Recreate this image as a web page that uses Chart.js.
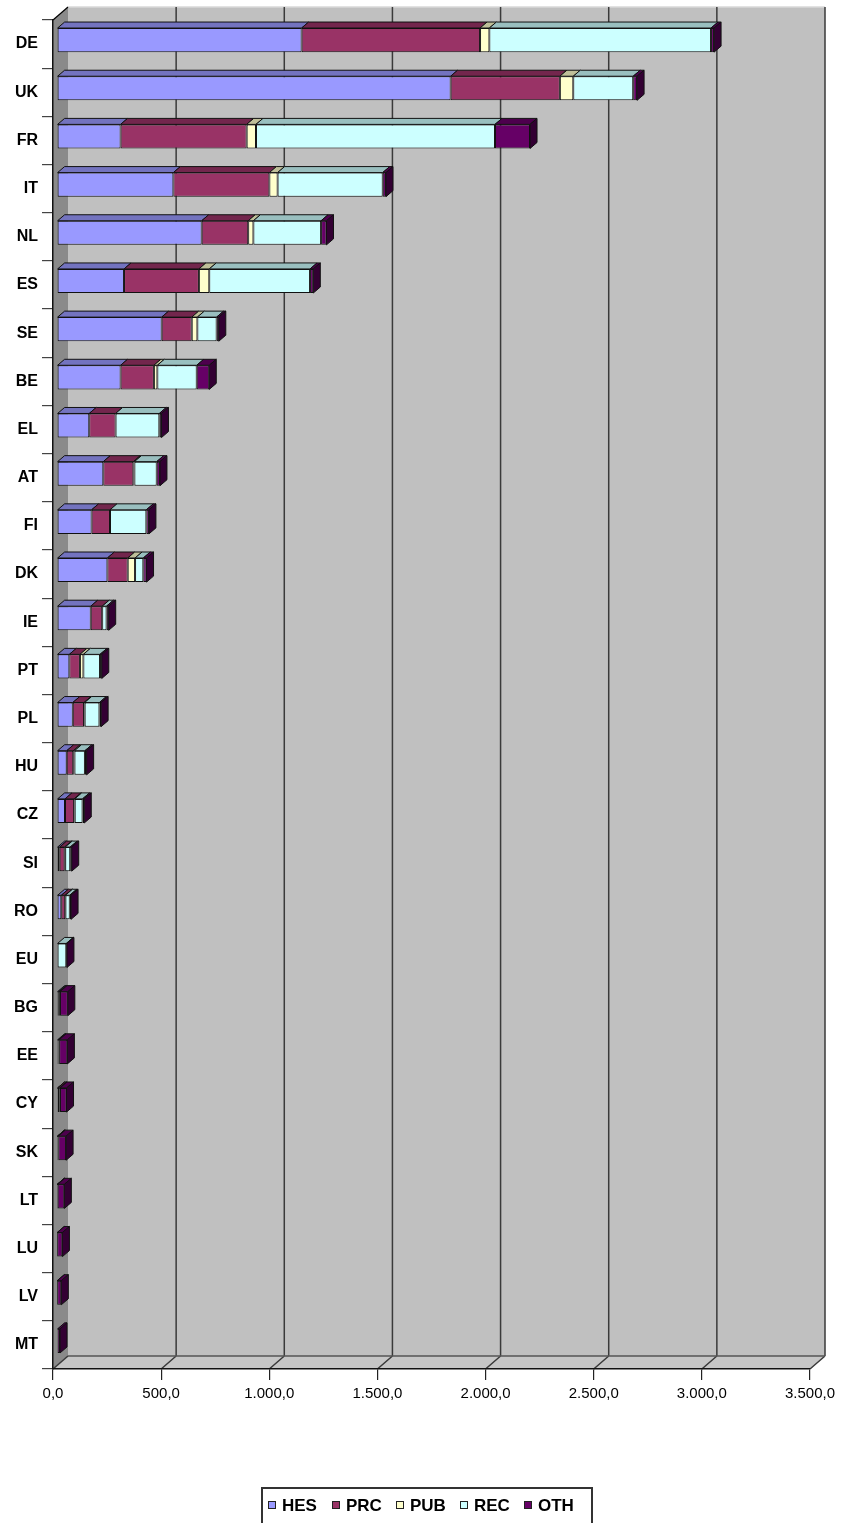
<!DOCTYPE html>
<html>
<head>
<meta charset="utf-8">
<script src="https://cdn.jsdelivr.net/npm/chart.js@4.4.1/dist/chart.umd.min.js"></script>
<style>
    html, body { margin: 0; padding: 0; background: #fff; }
</style>
</head>
<body>
<canvas id="barChart" width="842" height="1523"></canvas>
<script>
// Categories and stacked series (top to bottom)
const countries = ['DE', 'UK', 'FR', 'IT', 'NL', 'ES', 'SE', 'BE', 'EL', 'AT', 'FI', 'DK', 'IE', 'PT',
    'PL', 'HU', 'CZ', 'SI', 'RO', 'EU', 'BG', 'EE', 'CY', 'SK', 'LT', 'LU', 'LV', 'MT'];
const hes = [1131, 1820, 294, 538, 669, 310, 484, 294, 149, 214, 160, 233, 156, 57, 73, 45, 37, 12, 20, 0, 8, 6, 3, 2, 1, 0, 0, 0];
const prc = [825, 505, 583, 444, 215, 346, 139, 154, 122, 139, 85, 94, 53, 49, 52, 30, 42, 23, 18, 0, 2, 2, 8, 2, 1, 0, 0, 0];
const pub = [43, 62, 43, 38, 24, 48, 26, 16, 0, 5, 0, 34, 0, 16, 3, 6, 3, 3, 1, 0, 0, 0, 0, 0, 0, 0, 0, 0];
const rec = [1025, 277, 1105, 486, 313, 466, 89, 182, 202, 103, 168, 38, 20, 77, 68, 48, 36, 23, 20, 43, 4, 2, 3, 2, 1, 1, 1, 0];
const oth = [14, 18, 162, 15, 25, 15, 10, 58, 10, 15, 12, 15, 10, 8, 8, 8, 8, 7, 6, 3, 36, 38, 30, 36, 31, 24, 19, 14];
const seriesNames = ['HES', 'PRC', 'PUB', 'REC', 'OTH'];
const xTicks = [0, 500, 1000, 1500, 2000, 2500, 3000, 3500];

const colors = ['#9999ff', '#993366', '#ffffcc', '#ccffff', '#660066'];
const FONT = "'Liberation Sans', Arial, sans-serif";

// depth of the walls and of the bars (oblique projection)
const WX = 15, WY = 13;
const DX = 7, DY = 6;
const SHIFT = 4;

function shade(hex, f) {
    const n = parseInt(hex.slice(1), 16);
    const r = Math.round(((n >> 16) & 255) * f);
    const g = Math.round(((n >> 8) & 255) * f);
    const b = Math.round((n & 255) * f);
    return `rgb(${r}, ${g}, ${b})`;
}

// 1500 -> "1.500,0"
function fmt(v) {
    return String(Math.round(v)).replace(/\B(?=(\d{3})+(?!\d))/g, '.') + ',0';
}

function poly(ctx, pts, fill, stroke, lw) {
    ctx.beginPath();
    ctx.moveTo(pts[0][0], pts[0][1]);
    for (let i = 1; i < pts.length; i++) ctx.lineTo(pts[i][0], pts[i][1]);
    ctx.closePath();
    if (fill) { ctx.fillStyle = fill; ctx.fill(); }
    if (stroke) { ctx.strokeStyle = stroke; ctx.lineWidth = lw || 1; ctx.stroke(); }
}

// Back wall, left wall, floor and gridlines
const wallsPlugin = {
    id: 'walls',
    beforeDraw(chart) {
        const ctx = chart.ctx;
        const { left, right, top, bottom } = chart.chartArea;
        const xs = chart.scales.x;
        ctx.save();
        poly(ctx, [[left + WX, top - WY], [right + WX, top - WY], [right + WX, bottom - WY], [left + WX, bottom - WY]], '#c0c0c0');
        poly(ctx, [[left, top], [left + WX, top - WY], [left + WX, bottom - WY], [left, bottom]], '#8a8a8a');
        poly(ctx, [[left, bottom], [left + WX, bottom - WY], [right + WX, bottom - WY], [right, bottom]], '#c6c6c6');

        // top edge of the back wall
        ctx.strokeStyle = '#d8d8d8';
        ctx.lineWidth = 1.5;
        ctx.beginPath();
        ctx.moveTo(left + WX, top - WY);
        ctx.lineTo(right + WX, top - WY);
        ctx.stroke();

        ctx.strokeStyle = '#3a3a3a';
        ctx.lineWidth = 1.5;
        xTicks.forEach(v => {
            const x = xs.getPixelForValue(v);
            ctx.beginPath();
            if (v > 0) {
                ctx.moveTo(x + WX, top - WY);
                ctx.lineTo(x + WX, bottom - WY);
            }
            ctx.moveTo(x + WX, bottom - WY);
            ctx.lineTo(x, bottom);
            ctx.stroke();
        });

        // floor back edge and top-left slant
        ctx.strokeStyle = '#555';
        ctx.beginPath();
        ctx.moveTo(left + WX, bottom - WY);
        ctx.lineTo(right + WX, bottom - WY);
        ctx.stroke();
        ctx.strokeStyle = '#000';
        ctx.lineWidth = 1.2;
        ctx.beginPath();
        ctx.moveTo(left, top);
        ctx.lineTo(left + WX, top - WY);
        ctx.stroke();
        ctx.restore();
    }
};

// Shift the bars into the box and add their top and end faces
const bars3dPlugin = {
    id: 'bars3d',
    beforeDatasetsDraw(chart) {
        chart.ctx.save();
        chart.ctx.translate(SHIFT, -SHIFT);
    },
    afterDatasetsDraw(chart) {
        const ctx = chart.ctx;
        const sets = chart.data.datasets;
        countries.forEach((c, i) => {
            let last = -1;
            sets.forEach((ds, d) => {
                if (ds.data[i] <= 0) return;
                last = d;
                const bar = chart.getDatasetMeta(d).data[i];
                const p = bar.getProps(['x', 'y', 'base', 'height'], true);
                const y0 = p.y - p.height / 2;
                poly(ctx, [[p.base, y0], [p.base + DX, y0 - DY], [p.x + DX, y0 - DY], [p.x, y0]],
                    shade(colors[d], 0.75), '#111', 1);
            });
            if (last < 0) return;
            const bar = chart.getDatasetMeta(last).data[i];
            const p = bar.getProps(['x', 'y', 'base', 'height'], true);
            const y0 = p.y - p.height / 2, y1 = p.y + p.height / 2;
            poly(ctx, [[p.x, y0], [p.x + DX, y0 - DY], [p.x + DX, y1 - DY], [p.x, y1]],
                shade(colors[last], 0.5), '#111', 1);
        });
        ctx.restore();
    }
};

// Boxed legend under the chart, one fixed-width slot per series
const legendBoxPlugin = {
    id: 'legendBox',
    afterDraw(chart) {
        const ctx = chart.ctx;
        const sets = chart.data.datasets;
        const mark = 8, gapIn = 6, slot = 64;
        const boxLeft = 262, boxTop = 1488, boxWidth = 330, cy = 1505;
        ctx.save();
        ctx.font = `bold 17px ${FONT}`;
        ctx.strokeStyle = '#333';
        ctx.lineWidth = 2;
        ctx.strokeRect(boxLeft, boxTop, boxWidth, 50);
        ctx.textBaseline = 'middle';
        sets.forEach((ds, d) => {
            const x = boxLeft + 6 + d * slot;
            ctx.fillStyle = ds.backgroundColor;
            ctx.fillRect(x, cy - mark / 2, mark, mark);
            ctx.strokeStyle = '#222';
            ctx.lineWidth = 1;
            ctx.strokeRect(x + 0.5, cy - mark / 2 + 0.5, mark - 1, mark - 1);
            ctx.fillStyle = '#000';
            ctx.fillText(ds.label, x + mark + gapIn, cy + 1);
        });
        ctx.restore();
    }
};

const seriesData = [hes, prc, pub, rec, oth];

const ctx = document.getElementById('barChart').getContext('2d');
const barChart = new Chart(ctx, {
    type: 'bar',
    data: {
        labels: countries,
        datasets: seriesNames.map((name, i) => ({
            label: name,
            data: seriesData[i],
            backgroundColor: colors[i],
            borderColor: '#111',
            borderWidth: 1,
            borderSkipped: false,
            categoryPercentage: 1,
            barPercentage: 0.5
        }))
    },
    options: {
        indexAxis: 'y',
        responsive: false,
        animation: false,
        devicePixelRatio: 1,
        layout: { padding: { top: 20, right: 32, bottom: 114, left: 0 } },
        plugins: {
            legend: { display: false },
            tooltip: { enabled: false }
        },
        scales: {
            x: {
                type: 'linear',
                stacked: true,
                min: 0,
                max: 3500,
                afterBuildTicks: s => { s.ticks = xTicks.map(v => ({ value: v })); },
                afterFit: s => { s.height = 40; },
                ticks: {
                    callback: v => fmt(v),
                    color: '#000',
                    padding: 5,
                    maxRotation: 0,
                    font: { family: FONT, size: 15 }
                },
                grid: { drawOnChartArea: false, tickLength: 11, color: '#222', lineWidth: 1.2 },
                border: { color: '#111', width: 1.5 }
            },
            y: {
                stacked: true,
                afterFit: s => { s.width = 53; },
                ticks: {
                    color: '#000',
                    padding: 4,
                    font: { family: FONT, size: 16, weight: 'bold' }
                },
                grid: { offset: true, drawOnChartArea: false, tickLength: 11, color: '#444', lineWidth: 1.2 },
                border: { color: '#111', width: 1.5 }
            }
        }
    },
    plugins: [wallsPlugin, bars3dPlugin, legendBoxPlugin]
});
</script>
</body>
</html>
